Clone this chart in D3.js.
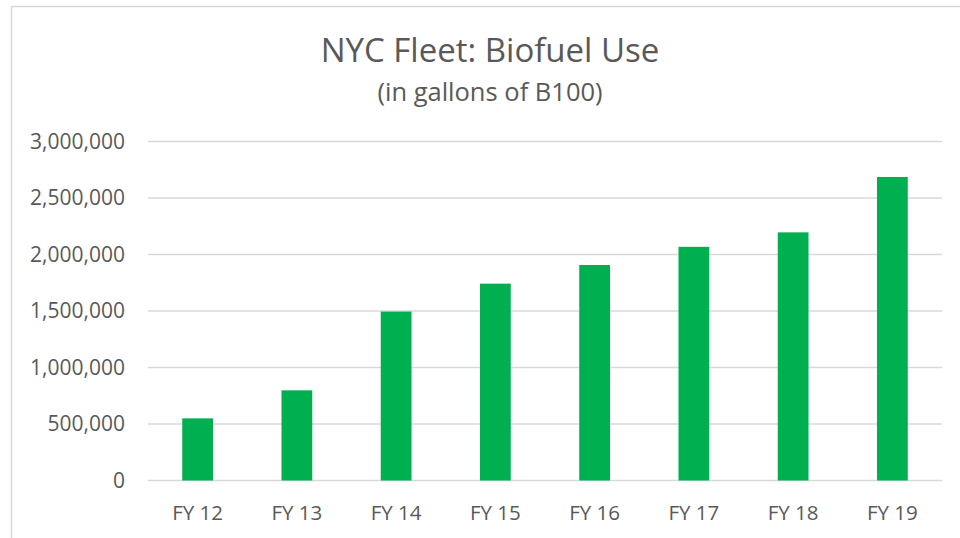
<!DOCTYPE html>
<html><head><meta charset="utf-8">
<script src="https://cdn.jsdelivr.net/npm/d3@7"></script>
<style>body{margin:0;background:#fff}svg{display:block}text{font-family:"Open Sans",sans-serif;fill:#595959}</style>
</head><body>
<svg id="c" width="960" height="538"></svg>
<script>
const categories = ["FY 12","FY 13","FY 14","FY 15","FY 16","FY 17","FY 18","FY 19"];
const values = [550000, 798000, 1495000, 1742000, 1907000, 2068000, 2196000, 2686000];
const yTicks = [0, 500000, 1000000, 1500000, 2000000, 2500000, 3000000];
const title = "NYC Fleet: Biofuel Use";
const subtitle = "(in gallons of B100)";

const svg = d3.select("#c");
svg.append("rect").attr("x",11.5).attr("y",6.5).attr("width",980).attr("height",560)
  .attr("fill","none").attr("stroke","#d9d9d9").attr("stroke-width",1.5);

const x = d3.scaleBand().domain(categories).range([148,942]).paddingInner(0.69).paddingOuter(0.345);
const y = d3.scaleLinear().domain([0,3000000]).range([480.5,141.5]);

const g = svg.append("g");
g.selectAll("line.grid").data(yTicks).join("line").attr("class","grid")
  .attr("x1",148).attr("x2",942).attr("y1",d=>y(d)).attr("y2",d=>y(d))
  .attr("stroke","#d9d9d9").attr("stroke-width",1.5);

g.selectAll("rect.bar").data(values).join("rect").attr("class","bar")
  .attr("x",(d,i)=>x(categories[i])).attr("width",x.bandwidth())
  .attr("y",d=>y(d)).attr("height",d=>y(0)-y(d)).attr("fill","#00b050");

const fmt = d3.format(",");
g.selectAll("text.yl").data(yTicks).join("text").attr("class","yl")
  .attr("x",125).attr("y",d=>y(d)).attr("dy","0.35em").attr("text-anchor","end")
  .attr("font-size",21).text(d=>fmt(d));

g.selectAll("text.xl").data(categories).join("text").attr("class","xl")
  .attr("x",d=>x(d)+x.bandwidth()/2).attr("y",513).attr("dy","0.35em").attr("text-anchor","middle")
  .attr("font-size",20.5).text(d=>d);

svg.append("text").attr("x",490).attr("y",62).attr("text-anchor","middle").attr("font-size",33).text(title);
svg.append("text").attr("x",490).attr("y",101).attr("text-anchor","middle").attr("font-size",25.5).text(subtitle);
</script>
</body></html>
